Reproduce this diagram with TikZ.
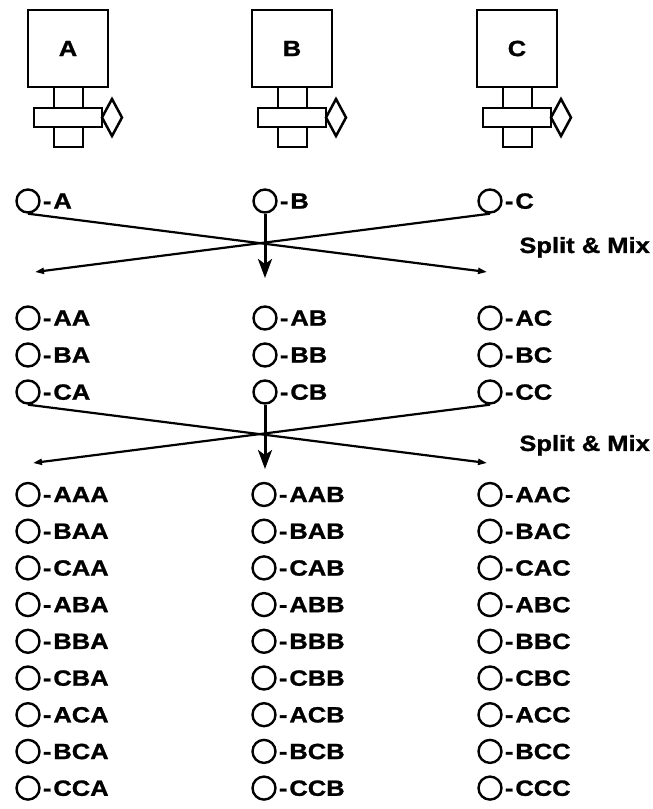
\documentclass[tikz,border=0pt]{standalone}
\usepackage{fontspec}
\setmainfont{Liberation Sans}[FakeStretch=1.16, FakeBold=1.2]
\usetikzlibrary{arrows.meta}

\tikzset{
  vessel/.style={draw, line width=2.5pt, minimum width=80pt, minimum height=77pt, inner sep=0pt, font=\bfseries\fontsize{22}{24}\selectfont},
  pipe/.style={line width=2.5pt},
  bead/.style={draw, circle, line width=2.4pt, minimum size=23pt, inner sep=0pt},
  tag/.style={anchor=west, inner sep=0pt, text depth=0pt, font=\bfseries\fontsize{22}{24}\selectfont},
  steplabel/.style={tag, anchor=east},
  mixline/.style={line width=2.2pt, -{Triangle[length=9pt, width=6pt]}},
  pourline/.style={line width=3pt, -{Stealth[length=19pt, width=14pt, inset=5pt]}}
}

\begin{document}
\begin{tikzpicture}[x=1pt, y=-1pt]
  \useasboundingbox (0,0) rectangle (653,809);

  % Reaction vessels with their valves
  \foreach \v/\x in {A/28, B/252, C/477} {
    \node[vessel] (ves\v) at (\x+40,48.5) {\v};
    \draw[pipe] (\x+26,87) rectangle (\x+55,147);
    \draw[pipe, fill=white] (\x+6,108) rectangle (\x+74,127);
    \draw[pipe] (\x+74,117.5) -- (\x+84,99) -- (\x+94,117.5) -- (\x+84,136) -- cycle;
  }

  % First coupling
  \foreach \v/\x in {A/28, B/265, C/490} {
    \node[bead] (bead-\v) at (\x,201) {};
    \node[tag] (tag-\v) at ([xshift=2pt]bead-\v.east) {-\kern2pt\v};
  }

  \node[steplabel] (mix1) at (650,245) {Split \& Mix};
  \coordinate (mixL1) at (35,272);
  \coordinate (mixR1) at (487,272);
  \coordinate (pour1) at (265,278);

  \draw[mixline] (bead-A.south) -- (mixR1);
  \draw[mixline] (bead-C.south) -- (mixL1);
  \draw[pourline] (bead-B.south) -- (pour1);

  % Second coupling
  \foreach \v/\x in {A/28, B/265, C/490} {
    \foreach \f [count=\i from 0] in {A,B,C} {
      \node[bead] (bead-\f\v) at (\x,{318+37*\i}) {};
      \node[tag] (tag-\f\v) at ([xshift=2pt]bead-\f\v.east) {-\kern2pt\f\v};
    }
  }

  \node[steplabel] (mix2) at (650,443) {Split \& Mix};
  \coordinate (mixL2) at (33,463);
  \coordinate (mixR2) at (487,463);
  \coordinate (pour2) at (265,469);

  \draw[mixline] (bead-CA.south) -- (mixR2);
  \draw[mixline] (bead-CC.south) -- (mixL2);
  \draw[pourline] (bead-CB.south) -- (pour2);

  % Third coupling, all 27 trimers
  \foreach \v/\x in {A/28, B/264, C/490} {
    \foreach \m [count=\j from 0] in {A,B,C} {
      \foreach \f [count=\i from 0] in {A,B,C} {
        \node[bead] (bead-\f\m\v) at (\x,{494.5+36.7*(3*\j+\i)}) {};
        \node[tag] (tag-\f\m\v) at ([xshift=2pt]bead-\f\m\v.east) {-\kern2pt\f\m\v};
      }
    }
  }
\end{tikzpicture}
\end{document}
